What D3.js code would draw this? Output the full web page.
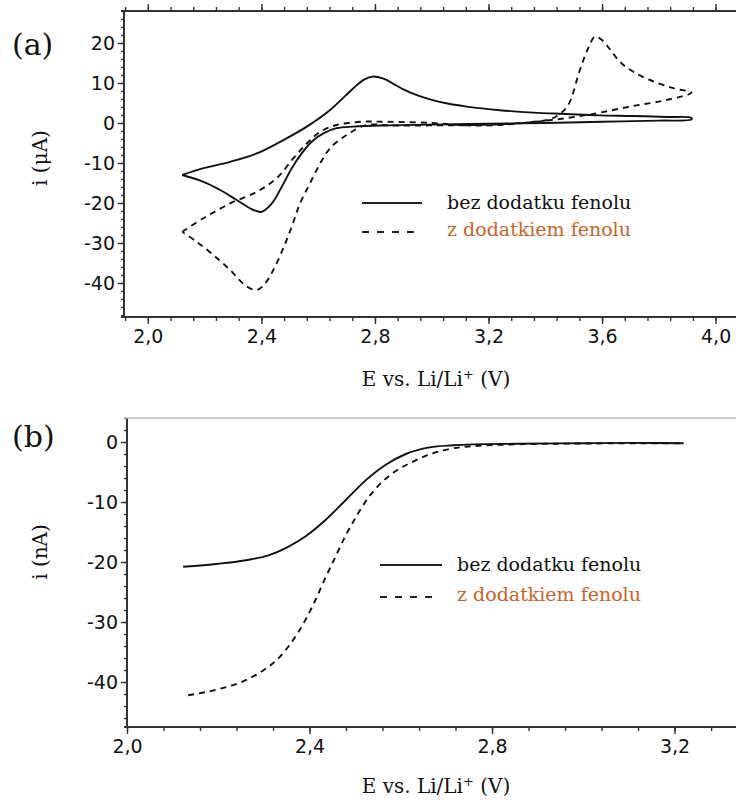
<!DOCTYPE html>
<html>
<head>
<meta charset="utf-8">
<script src="https://cdn.jsdelivr.net/npm/d3@7"></script>
<style>
	body{margin:0;background:#fff;}
	svg{display:block;}
	.tick text{font-family:"DejaVu Sans",sans-serif;font-size:19px;fill:#111;}
	.serif{font-family:"DejaVu Serif",serif;fill:#111;}
</style>
</head>
<body>
<svg id="chart" width="736" height="804"></svg>
<script>
// panel (a): cyclic voltammetry, E in V, i in uA
var topSolidE=[2.121,2.196,2.29,2.384,2.466,2.56,2.642,2.724,2.76,2.791,2.83,2.865,2.90,2.95,3.0,3.06,3.123,3.24,3.358,3.475,3.59,3.71,3.83,3.915,
	3.915,3.8,3.6,3.4,3.2,3.0,2.85,2.724,2.665,2.618,2.577,2.542,2.507,2.472,2.437,2.401,2.372,2.313,2.255,2.196,2.121];
var topSolidI=[-13,-11.3,-9.7,-7.6,-4.7,-0.9,3.25,8.7,10.8,11.6,11.1,9.8,8.4,6.9,5.8,4.8,4.1,3.2,2.6,2.25,1.9,1.75,1.5,1.3,
	0.9,0.6,0.3,0.0,-0.2,-0.4,-0.6,-0.9,-1.3,-2.6,-4.7,-7.6,-11.3,-15.9,-20.1,-22.2,-21.75,-19.25,-16.75,-14.7,-13];
var topDashedE=[2.121,2.196,2.29,2.384,2.454,2.513,2.56,2.607,2.665,2.748,2.84,3.0,3.123,3.24,3.358,3.416,3.45,3.481,3.522,3.55,3.575,3.595,3.616,3.663,3.71,3.769,3.851,3.915,
	3.827,3.71,3.593,3.546,3.45,3.35,3.2,3.0,2.85,2.77,2.70,2.642,2.607,2.571,2.536,2.507,2.477,2.442,2.413,2.384,2.349,2.29,2.231,2.172,2.121];
var topDashedI=[-27.2,-23.8,-20.1,-17.2,-13.8,-8.8,-5.1,-2.2,-0.5,0.3,0.3,0.0,-0.6,-0.5,0.3,0.9,2.2,4.5,13.25,18.5,21.6,21.0,19.5,15.3,12.8,10.75,8.7,7.6,
	5.75,4.25,2.6,2.0,1.0,0.2,-0.4,-0.6,-0.6,-0.5,-3,-6.3,-10.1,-15.1,-20.1,-25.9,-31.3,-36.75,-40.1,-41.75,-40.9,-36.75,-33,-29.7,-27.2];

// panel (b): linear sweep, E in V, i in nA
var botSolidE=[2.123,2.2,2.26,2.31,2.35,2.39,2.435,2.479,2.523,2.567,2.611,2.663,2.714,2.758,2.85,3.0,3.1,3.22];
var botSolidI=[-20.8,-20.3,-19.7,-18.9,-17.6,-15.8,-13,-9.7,-6.4,-3.8,-2.0,-0.9,-0.55,-0.4,-0.3,-0.2,-0.15,-0.2];
var botDashedE=[2.134,2.2,2.26,2.30,2.335,2.365,2.39,2.412,2.435,2.457,2.479,2.501,2.523,2.552,2.582,2.626,2.67,2.714,2.758,2.85,3.0,3.22];
var botDashedI=[-42.2,-41.2,-39.7,-38.0,-35.8,-32.9,-29.8,-26.5,-22.6,-19.1,-15.6,-12.6,-9.9,-7.2,-5.2,-3.3,-1.9,-1.05,-0.7,-0.4,-0.25,-0.2];

var topXTicks=[2.0,2.4,2.8,3.2,3.6,4.0];
var topYTicks=[-40,-30,-20,-10,0,10,20];
var botXTicks=[2.0,2.4,2.8,3.2];
var botYTicks=[-40,-30,-20,-10,0];
var legendLabels=["bez dodatku fenolu","z dodatkiem fenolu"];

var svg=d3.select("#chart");
var comma=function(d){return d3.format(".1f")(d).replace(".",",");};

function zip(E,I){return E.map(function(e,k){return [e,I[k]];});}

function panel(o){
	var g=svg.append("g");
	var x=d3.scaleLinear().domain(o.xDom).range([o.left,o.right]);
	var y=d3.scaleLinear().domain(o.yDom).range([o.bottom,o.top]);

	// minor ticks
	g.append("g").attr("transform","translate(0,"+o.bottom+")")
		.call(d3.axisBottom(x).tickValues(o.xMinor).tickSize(4).tickFormat(""))
		.call(function(s){s.select(".domain").remove();});
	g.append("g").attr("transform","translate("+o.left+",0)")
		.call(d3.axisLeft(y).tickValues(o.yMinor).tickSize(3).tickFormat(""))
		.call(function(s){s.select(".domain").remove();});
	if(o.topTicks){
		g.append("g").attr("transform","translate(0,"+o.top+")")
			.call(d3.axisTop(x).tickValues(o.xMinor).tickSize(4).tickFormat(""))
			.call(function(s){s.select(".domain").remove();});
		g.append("g").attr("transform","translate(0,"+o.top+")")
			.call(d3.axisTop(x).tickValues(o.xTicks).tickSize(7).tickFormat(""))
			.call(function(s){s.select(".domain").remove();});
	}
	// major ticks
	g.append("g").attr("transform","translate(0,"+o.bottom+")")
		.call(d3.axisBottom(x).tickValues(o.xTicks).tickSize(7).tickPadding(6).tickFormat(comma))
		.call(function(s){s.select(".domain").remove();});
	g.append("g").attr("transform","translate("+o.left+",0)")
		.call(d3.axisLeft(y).tickValues(o.yTicks).tickSize(6).tickPadding(3).tickFormat(function(d){return String(d);}))
		.call(function(s){s.select(".domain").remove();});
	g.selectAll(".tick line").attr("stroke","#333").attr("stroke-width",1.4);

	// frame
	g.append("line").attr("x1",o.left).attr("x2",o.left).attr("y1",o.top).attr("y2",o.bottom)
		.attr("stroke","#333").attr("stroke-width",2);
	g.append("line").attr("x1",o.left-3).attr("x2",o.right).attr("y1",o.bottom).attr("y2",o.bottom)
		.attr("stroke","#333").attr("stroke-width",2);
	g.append("line").attr("x1",o.left-3).attr("x2",o.right).attr("y1",o.top).attr("y2",o.top)
		.attr("stroke",o.topColor).attr("stroke-width",o.topWidth);

	var line=d3.line().x(function(d){return x(d[0]);}).y(function(d){return y(d[1]);})
		.curve(o.curve);
	g.append("path").datum(zip(o.solidE,o.solidI)).attr("d",line)
		.attr("fill","none").attr("stroke","#111").attr("stroke-width",1.9);
	g.append("path").datum(zip(o.dashedE,o.dashedI)).attr("d",line)
		.attr("fill","none").attr("stroke","#111").attr("stroke-width",1.9)
		.attr("stroke-dasharray","6,5");

	// legend
	var lg=g.append("g").attr("transform","translate("+o.legX+","+o.legY+")");
	lg.append("line").attr("x1",0).attr("x2",o.legLen).attr("y1",0).attr("y2",0)
		.attr("stroke","#222").attr("stroke-width",2);
	lg.append("line").attr("x1",0).attr("x2",o.legLen-8).attr("y1",o.legGap+2).attr("y2",o.legGap+2)
		.attr("stroke","#222").attr("stroke-width",2).attr("stroke-dasharray","7,8");
	lg.selectAll("text").data(legendLabels).enter().append("text")
		.attr("class","serif")
		.attr("x",o.legText).attr("y",function(d,i){return i*o.legGap;})
		.attr("dy","0.32em").attr("font-size",19)
		.style("fill",function(d,i){return i==0?"#111":"#c8642a";})
		.text(function(d){return d;});

	// titles
	var xt=g.append("text").attr("class","serif").attr("x",o.xTitleX).attr("y",o.xTitleY)
		.attr("text-anchor","middle").attr("font-size",20);
	xt.append("tspan").text("E vs. Li/Li");
	xt.append("tspan").attr("dy",-7).attr("font-size",13).text("+");
	xt.append("tspan").attr("dy",7).text(" (V)");
	g.append("text").attr("class","serif")
		.attr("transform","translate(47,"+o.yTitleY+") rotate(-90)")
		.attr("text-anchor","middle").attr("font-size",20).text(o.yTitle);
	g.append("text").attr("class","serif").attr("x",12).attr("y",o.tagY)
		.attr("font-size",30).text(o.tag);
}

panel({
	xDom:[1.916,4.1], left:124, right:744,
	yDom:[-48.5,28], bottom:317, top:11,
	xTicks:topXTicks, yTicks:topYTicks,
	xMinor:d3.range(1.92,4.1,0.08), yMinor:d3.range(-48,28.01,2),
	topTicks:true, topColor:"#333", topWidth:2,
	curve:d3.curveCatmullRom.alpha(0.5),
	solidE:topSolidE, solidI:topSolidI, dashedE:topDashedE, dashedI:topDashedI,
	legX:362, legY:203, legLen:60, legGap:27, legText:85,
	xTitleX:436, xTitleY:386, yTitle:"i (\u03bcA)", yTitleY:158,
	tag:"(a)", tagY:55
});

panel({
	xDom:[2.0,3.35], left:127, right:743,
	yDom:[-47.5,4], bottom:727, top:418,
	xTicks:botXTicks, yTicks:botYTicks,
	xMinor:d3.range(2.0,3.35,0.08), yMinor:d3.range(-46,4.01,2),
	topTicks:false, topColor:"#bbb", topWidth:1.5,
	curve:d3.curveMonotoneX,
	solidE:botSolidE, solidI:botSolidI, dashedE:botDashedE, dashedI:botDashedI,
	legX:380, legY:565, legLen:62, legGap:30, legText:77,
	xTitleX:436, xTitleY:793, yTitle:"i (nA)", yTitleY:552,
	tag:"(b)", tagY:447
});
</script>
</body>
</html>
